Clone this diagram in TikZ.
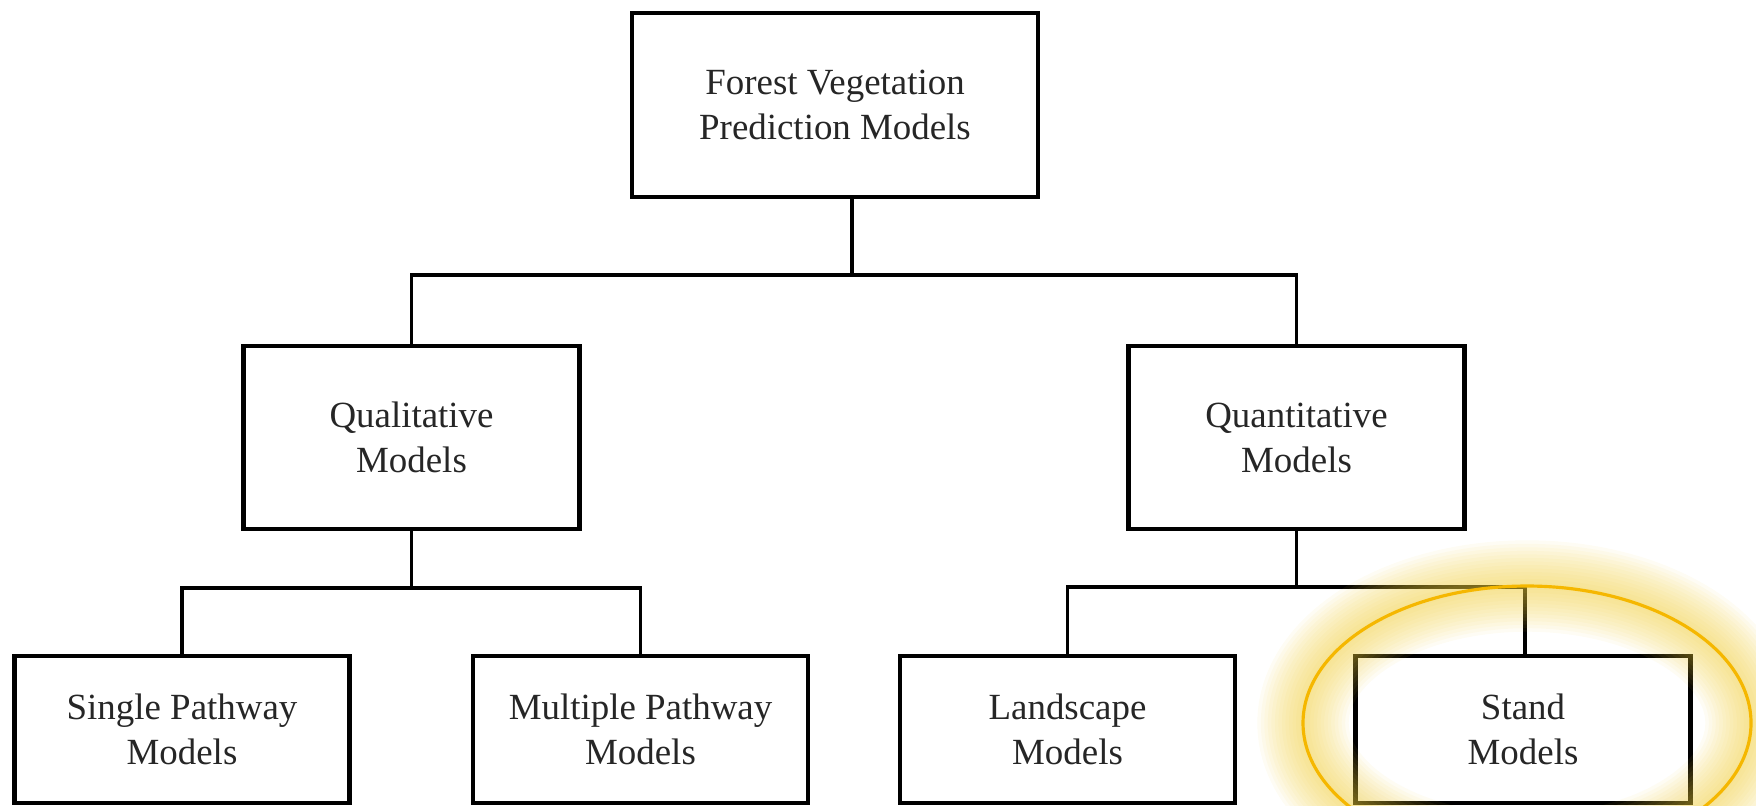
\documentclass[tikz,border=0pt]{standalone}
\usepackage{fontspec}
\setmainfont{Liberation Serif}

\definecolor{ringOrange}{RGB}{245,183,0}
\definecolor{glowYellow}{RGB}{240,205,60}

\begin{document}
\begin{tikzpicture}
    [ box/.style={draw=black, fill=white, line width=1.2pt, align=center, text=black!85, inner sep=0pt,
                  font=\fontsize{10.5}{12.8}\selectfont},
      rootBox/.style={box, minimum width=4.06cm, minimum height=1.84cm},
      classBox/.style={box, minimum width=3.36cm, minimum height=1.83cm},
      leafBox/.style={box, minimum width=3.35cm, minimum height=1.47cm},
      link/.style={black, line width=1pt},
      ring/.style={draw=ringOrange, line width=0.9pt},
      glow/.style={draw=glowYellow, opacity=0.06}]

  \clip (0,0) rectangle (17.56,-8.05);

%%%%%%%%%%%%%%%%%%%%%%%%%%%%%%%%%%%%%%%%%%%%%%%%%%%%%%%%%%%%%%%%%%%%%%%%%%%%%%%%%%%%%%%%%%%%%%%%%%%%%%%%%%
%draw model boxes
	  \node[rootBox]  (root)  at (8.35, -1.05)   {Forest Vegetation\\Prediction Models};

	  \node[classBox] (qual)  at (4.115, -4.375) {Qualitative\\Models};
	  \node[classBox] (quant) at (12.965, -4.375) {Quantitative\\Models};

	  \node[leafBox]  (single)    at (1.82, -7.295)  {Single Pathway\\Models};
	  \node[leafBox]  (multiple)  at (6.405, -7.295) {Multiple Pathway\\Models};
	  \node[leafBox]  (landscape) at (10.675, -7.295) {Landscape\\Models};
	  \node[leafBox]  (stand)     at (15.23, -7.295) {Stand\\Models};

%%%%%%%%%%%%%%%%%%%%%%%%%%%%%%%%%%%%%%%%%%%%%%%%%%%%%%%%%%%%%%%%%%%%%%%%%%%%%%%%%%%%%%%%%%%%%%%%%%%%%%%%%%
%draw tree links
	  \draw[link] ([xshift=1.7mm]root.south) -- ++(0,-0.76) coordinate (rootJoint);
	  \draw[link] (qual.north) |- (rootJoint) -| (quant.north);

	  \draw[link] (qual.south) -- ++(0,-0.57) coordinate (qualJoint);
	  \draw[link] (single.north) |- (qualJoint) -| (multiple.north);

	  \draw[link] (quant.south) -- ++(0,-0.56) coordinate (quantJoint);
	  \draw[link] (landscape.north) |- (quantJoint) -| ([xshift=0.2mm]stand.north);

%%%%%%%%%%%%%%%%%%%%%%%%%%%%%%%%%%%%%%%%%%%%%%%%%%%%%%%%%%%%%%%%%%%%%%%%%%%%%%%%%%%%%%%%%%%%%%%%%%%%%%%%%%
%highlight stand models
	  \coordinate (ringCenter) at ([shift={(0.04,0.065)}]stand.center);
	  \foreach \w in {2,4,...,26}
	    \draw[glow, line width=\w pt] (ringCenter) ellipse [x radius=2.24, y radius=1.37];
	  \draw[ring] (ringCenter) ellipse [x radius=2.24, y radius=1.37];

\end{tikzpicture}
\end{document}
